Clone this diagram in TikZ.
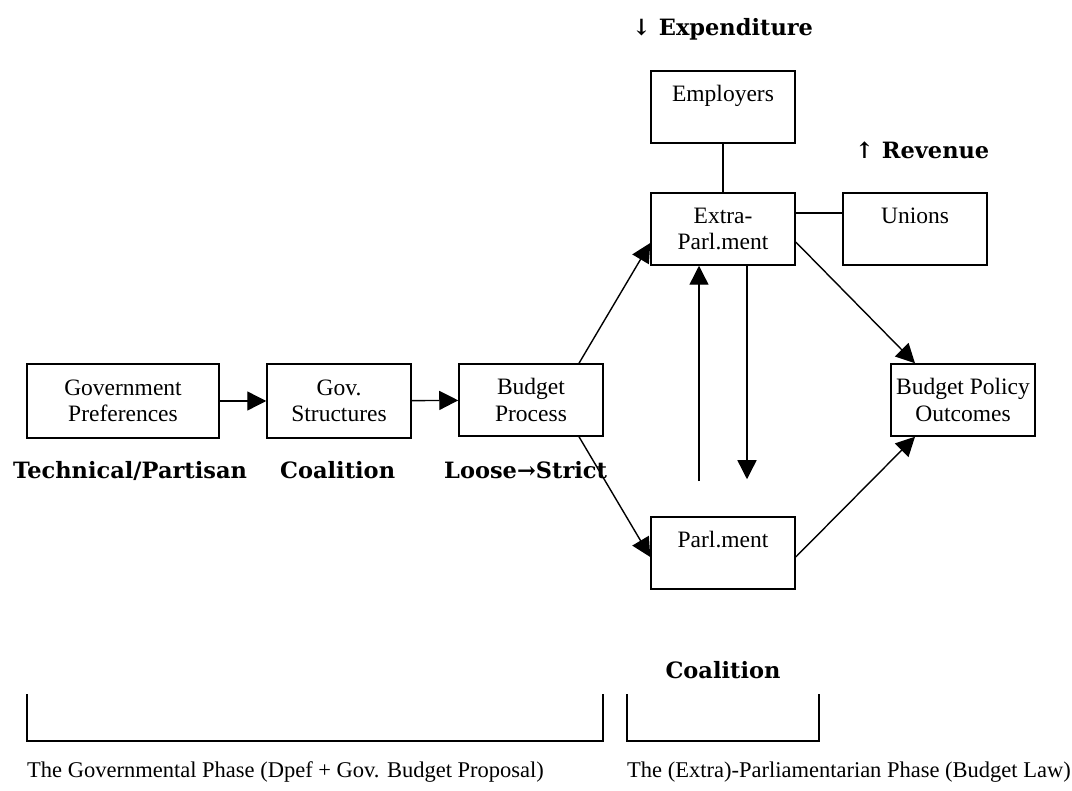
\documentclass[tikz,border=0pt]{standalone}
\usepackage{fontspec}
\setmainfont{Liberation Serif}
\newfontfamily\labelfont{DejaVu Serif}
\usetikzlibrary{arrows.meta}

\tikzset{
  box/.style={draw, line width=1.5pt, minimum width=144pt, minimum height=72pt,
    inner sep=0pt, align=center, font=\fontsize{23.5}{26.5}\selectfont},
  tag/.style={inner sep=0pt, font=\labelfont\bfseries\fontsize{22.5}{24}\selectfont},
  phase/.style={anchor=base west, inner sep=0pt, font=\fontsize{22.5}{24}\selectfont},
  flow/.style={line width=1.4pt, -{Triangle[length=19pt,width=19pt]}},
  link/.style={line width=1.4pt},
}

\begin{document}
\begin{tikzpicture}[x=1pt,y=-1pt]
\useasboundingbox (0,0) rectangle (1072,791);
% boxes
\node[box, minimum width=192pt, minimum height=74pt] (gpref) at (123,401) {Government\\Preferences};
\node[box, minimum height=74pt] (gstruct) at (339,401) {Gov.\\Structures};
\node[box] (bproc) at (531,400) {Budget\\Process};
\node[box] (employers) at (723,107) {Employers\\\mbox{}};
\node[box] (extra) at (723,229) {Extra-\\Parl.ment};
\node[box] (unions) at (915,229) {Unions\\\mbox{}};
\node[box] (parl) at (723,553) {Parl.ment\\\mbox{}};
\node[box] (outcomes) at (963,400) {Budget Policy\\Outcomes};
% bold labels
\node[tag, anchor=base west] (expend) at (632,36) {↓ Expenditure};
\node[tag, anchor=base west] (revenue) at (855,159) {↑ Revenue};
\node[tag, anchor=base west] (technical) at (13,479) {Technical/Partisan};
\node[tag, anchor=base west] (coalgov) at (280,479) {Coalition};
\node[tag, anchor=base west] (loose) at (444,479) {Loose→Strict};
\node[tag, anchor=base] (coalparl) at (723,678) {Coalition};
% connectors
\draw[flow] (gpref) -- (gstruct);
\draw[flow] (gstruct) -- (bproc);
\draw[flow] ([xshift=48pt]bproc.north) -- ([yshift=-14pt]extra.west);
\draw[flow] ([xshift=48pt]bproc.south) -- ([yshift=-4pt]parl.west);
\draw[flow] ([xshift=-24pt,yshift=35pt]parl.north) -- ([xshift=-24pt]extra.south);
\draw[flow] ([xshift=24pt]extra.south) -- ([xshift=24pt,yshift=37pt]parl.north);
\draw[flow] ([yshift=-13pt]extra.east) -- ([xshift=-48pt]outcomes.north);
\draw[flow] ([yshift=-4pt]parl.east) -- ([xshift=-48pt]outcomes.south);
\draw[link] (employers) -- (extra);
\draw[link] ([yshift=16pt]extra.east) -- ([yshift=16pt]unions.west);
% phase brackets
\draw[line width=1.5pt] (27,694) -- (27,741) -- (603,741) -- (603,694);
\draw[line width=1.5pt] (627,694) -- (627,741) -- (819,741) -- (819,694);
\node[phase] (govphase) at (27,777) {The Governmental Phase (Dpef + Gov. Budget Proposal)};
\node[phase] (parlphase) at (627,777) {The (Extra)-Parliamentarian Phase (Budget Law)};
\end{tikzpicture}
\end{document}
